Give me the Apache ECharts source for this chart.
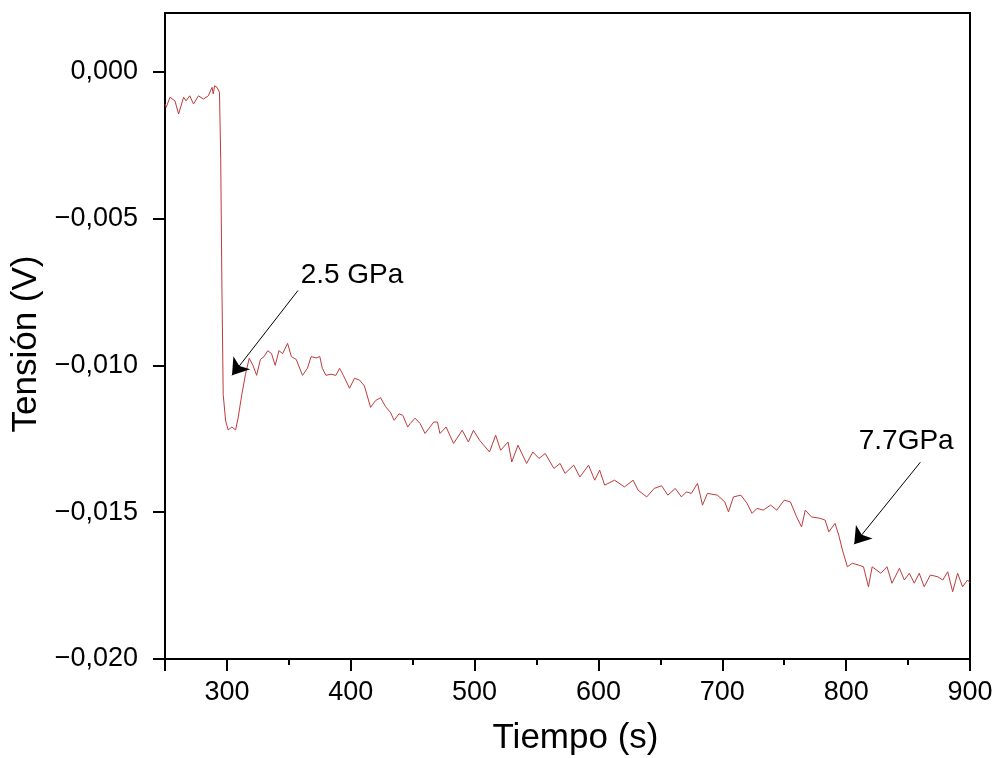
<!DOCTYPE html>
<html>
<head>
<meta charset="utf-8">
<script src="https://cdn.jsdelivr.net/npm/echarts@6/dist/echarts.min.js"></script>
<style>html,body{margin:0;padding:0;background:#fff}#c{width:998px;height:758px}</style>
</head>
<body>
<div id="c"></div>
<script>
var time = [250,251,254,258,261,265,267,270,273,277,281,285,288,289,290,292,294,295,296,297,299,301,304,307,309,312,315,318,321,324,327,330,333,336,339,342,345,349,352,356,361,365,368,372,375,377,380,384,388,391,394,399,403,407,411,416,420,424,428,432,435,439,442,446,448,452,456,460,467,470,472,477,483,490,495,499,504,512,517,521,527,530,535,542,547,552,557,564,569,573,580,585,592,597,601,605,613,621,628,632,639,645,651,656,662,667,671,675,680,684,688,696,702,705,709,715,720,724,728,733,739,744,750,755,760,764,767,772,779,783,786,791,794,797,801,805,810,814,818,821,828,833,837,843,847,851,855,859,863,868,874,878,882,886,890,894,898,900];
var tension = [-0.00110,-0.00121,-0.00087,-0.00099,-0.00144,-0.00087,-0.00099,-0.00082,-0.00110,-0.00082,-0.00093,-0.00082,-0.00053,-0.00076,-0.00048,-0.00053,-0.00070,-0.00300,-0.00750,-0.01100,-0.01190,-0.01220,-0.01210,-0.01220,-0.01180,-0.01100,-0.01030,-0.00976,-0.01000,-0.01034,-0.00980,-0.00970,-0.00950,-0.00960,-0.01000,-0.00950,-0.00960,-0.00925,-0.00970,-0.00980,-0.01034,-0.01010,-0.00970,-0.00975,-0.00970,-0.01010,-0.01034,-0.01030,-0.01034,-0.01010,-0.01034,-0.01078,-0.01044,-0.01050,-0.01070,-0.01143,-0.01120,-0.01110,-0.01140,-0.01160,-0.01187,-0.01165,-0.01170,-0.01210,-0.01198,-0.01180,-0.01198,-0.01232,-0.01193,-0.01193,-0.01232,-0.01210,-0.01266,-0.01221,-0.01261,-0.01221,-0.01255,-0.01295,-0.01238,-0.01289,-0.01261,-0.01329,-0.01272,-0.01334,-0.01295,-0.01317,-0.01300,-0.01351,-0.01334,-0.01368,-0.01340,-0.01380,-0.01340,-0.01391,-0.01357,-0.01408,-0.01391,-0.01414,-0.01391,-0.01425,-0.01448,-0.01419,-0.01410,-0.01442,-0.01419,-0.01448,-0.01431,-0.01436,-0.01402,-0.01476,-0.01436,-0.01442,-0.01465,-0.01499,-0.01448,-0.01442,-0.01470,-0.01504,-0.01487,-0.01493,-0.01476,-0.01493,-0.01459,-0.01465,-0.01516,-0.01550,-0.01493,-0.01516,-0.01521,-0.01527,-0.01567,-0.01538,-0.01578,-0.01629,-0.01686,-0.01674,-0.01680,-0.01686,-0.01754,-0.01686,-0.01708,-0.01686,-0.01742,-0.01691,-0.01731,-0.01708,-0.01742,-0.01708,-0.01754,-0.01714,-0.01720,-0.01731,-0.01703,-0.01771,-0.01708,-0.01754,-0.01731,-0.01740];
var xMajorTicks = [250,300,400,500,600,700,800,900];
var xLabels = [300,400,500,600,700,800,900];
var xMinorTicks = [350,450,550,650,750,850];
var yTicks = [-0.020,-0.015,-0.010,-0.005,0.000];
var annotations = [
  {name:'2.5 GPa', text:[401,-0.00694], from:[357.4,-0.00745], to:[304.1,-0.01034]},
  {name:'7.7GPa', text:[848.5,-0.01258], from:[859.9,-0.01330], to:[806.5,-0.01609]}
];

var FONT = 'Liberation Sans, Arial, sans-serif';
var pts = time.map(function(t,i){return [t, tension[i]];});
function fmtY(v){
  var s = Math.abs(v).toFixed(3).replace('.', ',');
  return (v < -1e-9 ? '\u2212' : '') + s;
}
var chart = echarts.init(document.getElementById('c'), null, {renderer:'canvas'});
chart.setOption({
  animation:false,
  backgroundColor:'#fff',
  grid:{left:165,right:28,top:13,bottom:99,containLabel:false,outerBoundsMode:'none',show:true,borderColor:'#000',borderWidth:2,backgroundColor:'transparent'},
  xAxis:[{
    type:'value',min:250,max:900,position:'bottom',
    name:'Tiempo (s)',nameLocation:'middle',nameGap:62,
    nameTextStyle:{fontSize:35,color:'#000',fontFamily:FONT,padding:[0,0,0,16]},
    axisLine:{show:true,onZero:false,lineStyle:{color:'#000',width:2}},
    axisTick:{show:true,length:12,inside:false,customValues:xMajorTicks,lineStyle:{color:'#000',width:2}},
    axisLabel:{show:true,customValues:xLabels,margin:20,fontSize:27,color:'#000',fontFamily:FONT},
    splitLine:{show:false}
  },{
    type:'value',min:250,max:900,position:'bottom',
    axisLine:{show:false,onZero:false},
    axisTick:{show:true,length:6,inside:false,customValues:xMinorTicks,lineStyle:{color:'#000',width:2}},
    axisLabel:{show:false},
    splitLine:{show:false}
  }],
  yAxis:{
    type:'value',min:-0.020,max:0.002,
    name:'Tensi\u00f3n (V)',nameLocation:'middle',nameGap:115,
    nameTextStyle:{fontSize:35,color:'#000',fontFamily:FONT,padding:[0,16,0,0]},
    axisLine:{show:true,onZero:false,lineStyle:{color:'#000',width:2}},
    axisTick:{show:true,length:12,inside:false,customValues:yTicks,lineStyle:{color:'#000',width:2}},
    axisLabel:{show:true,customValues:yTicks,margin:27,fontSize:27,color:'#000',fontFamily:FONT,formatter:fmtY},
    splitLine:{show:false}
  },
  series:[{
    type:'line',data:pts,showSymbol:false,symbol:'none',
    lineStyle:{color:'#bf3b3b',width:1},
    markLine:{
      silent:true,symbol:['none','arrow'],symbolSize:16,
      label:{show:false},
      lineStyle:{color:'#000',width:1,type:'solid'},
      data:annotations.map(function(a){return [{coord:a.from},{coord:a.to}];})
    },
    markPoint:{
      silent:true,symbol:'circle',symbolSize:0,
      label:{show:true,position:'inside',formatter:'{b}',fontSize:28,color:'#000',fontFamily:FONT},
      data:annotations.map(function(a){return {name:a.name,coord:a.text};})
    }
  }]
});
</script>
</body>
</html>
